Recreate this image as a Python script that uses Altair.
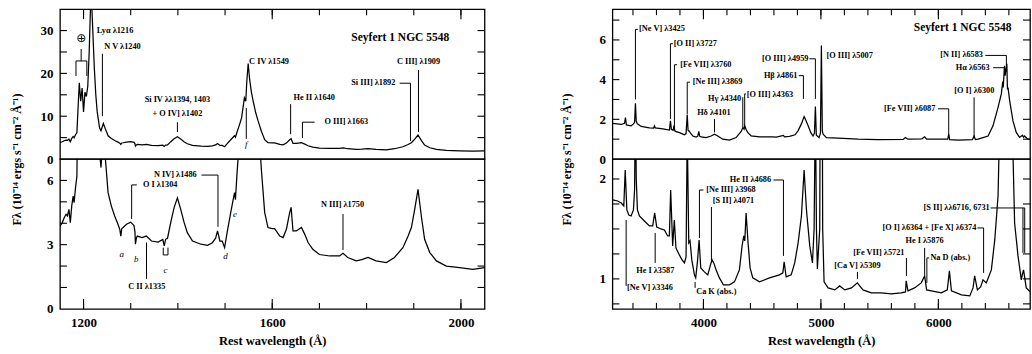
import altair as alt
import pandas as pd

SERIF = "Liberation Serif"
YTITLE = "F\u03bb (10\u207b\u00b9\u2074 ergs s\u207b\u00b9 cm\u207b\u00b2 \u00c5\u207b\u00b9)"

# ---------------- UV spectrum (rest wavelength, flux) ----------------
uv_points = [
    (1150, 3.87), (1155, 4.03), (1159, 4.26), (1163, 4.42), (1166, 4.34), (1169, 4.65),
    (1172, 4.03), (1175, 4.81), (1178, 5.27), (1180, 4.96), (1183, 5.66), (1186, 6.2),
    (1188, 11.0), (1191, 17.8), (1194, 13.5), (1197, 16.6), (1200, 11.0), (1203, 15.6),
    (1206, 14.6), (1209, 17.0), (1212, 25.0), (1216, 40.0), (1220, 29.0), (1223, 21.0),
    (1226, 15.0), (1229, 11.0), (1234, 7.3), (1237, 6.6), (1242, 8.3), (1246, 7.1),
    (1250, 6.0), (1252, 5.43), (1259, 4.8), (1266, 4.34), (1273, 3.95), (1277, 3.7),
    (1279, 3.4), (1281, 3.75), (1284, 3.8), (1291, 3.95), (1300, 4.05), (1307, 3.89),
    (1309, 3.6), (1310, 3.02), (1312, 3.3), (1314, 3.4), (1324, 3.33), (1333, 3.4),
    (1344, 3.17), (1358, 3.12), (1368, 3.24), (1371, 2.94), (1374, 3.25), (1378, 3.3),
    (1385, 4.05), (1392, 4.73), (1399, 5.19), (1406, 4.65), (1413, 4.05), (1420, 3.56),
    (1431, 3.17), (1449, 3.02), (1463, 2.97), (1473, 3.09), (1480, 3.3), (1484, 3.64),
    (1489, 3.17), (1494, 3.17), (1499, 2.86), (1505, 3.64), (1512, 4.5), (1520, 5.43),
    (1522, 5.1), (1525, 6.2), (1530, 7.8), (1535, 9.6), (1541, 14.3), (1544, 13.5),
    (1546, 18.0), (1549, 22.3), (1552, 18.7), (1556, 15.5), (1560, 13.3), (1565, 10.8),
    (1570, 8.9), (1577, 6.5), (1584, 4.5), (1591, 3.8), (1600, 3.75), (1605, 3.75),
    (1616, 3.4), (1623, 3.33), (1630, 3.72), (1637, 4.5), (1640, 4.74), (1644, 3.64),
    (1651, 3.64), (1662, 3.8), (1669, 3.48), (1676, 3.1), (1686, 2.78), (1700, 2.54),
    (1722, 2.47), (1743, 2.47), (1750, 2.6), (1760, 2.4), (1778, 2.24), (1790, 2.3),
    (1803, 2.4), (1820, 2.24), (1842, 2.16), (1859, 2.4), (1877, 2.86), (1888, 3.4),
    (1895, 3.8), (1902, 4.65), (1909, 5.58), (1916, 4.34), (1923, 3.25), (1934, 2.63),
    (1948, 2.24), (1969, 2.0), (1997, 1.93), (2025, 1.85), (2050, 1.93),
]

# ---------------- Optical spectrum, upper panel ----------------
opt_top_points = [
    (3228, 1.80), (3300, 1.74), (3328, 1.80), (3336, 2.09), (3344, 1.72), (3384, 1.67),
    (3404, 1.77), (3414, 1.85), (3421, 2.81), (3428, 1.9), (3438, 1.77), (3470, 1.64),
    (3540, 1.57), (3576, 1.56), (3583, 1.67), (3590, 1.57), (3654, 1.52), (3711, 1.46),
    (3719, 1.93), (3727, 1.49), (3742, 1.45), (3750, 1.69), (3756, 1.42), (3762, 1.39),
    (3796, 1.33), (3838, 1.22), (3852, 1.28), (3862, 2.24), (3869, 1.45), (3881, 1.39),
    (3890, 1.3), (3909, 1.16), (3938, 1.11), (3952, 1.15), (3960, 1.39), (3968, 1.15),
    (3980, 1.11), (4023, 1.08), (4065, 1.16), (4094, 1.25), (4122, 1.16), (4164, 1.0),
    (4221, 0.95), (4278, 1.08), (4321, 1.39), (4336, 1.59), (4346, 1.5), (4352, 1.67),
    (4362, 1.5), (4377, 1.34), (4406, 1.16), (4477, 1.11), (4590, 1.11), (4620, 1.1),
    (4681, 1.19), (4690, 1.12), (4732, 1.14), (4780, 1.22), (4806, 1.43), (4834, 1.77),
    (4857, 2.14), (4864, 2.05), (4885, 1.77), (4913, 1.34), (4933, 1.16), (4945, 1.3),
    (4953, 2.64), (4961, 1.2), (4970, 1.16), (4984, 1.08), (4996, 1.3), (5004, 5.72),
    (5012, 1.4), (5019, 1.25), (5047, 1.08), (5146, 1.05), (5316, 1.0), (5487, 0.98),
    (5700, 0.99), (5719, 1.08), (5740, 1.0), (5860, 1.02), (5883, 1.12), (5900, 1.0),
    (5997, 1.0), (6080, 1.0), (6088, 1.25), (6096, 0.98), (6168, 0.95), (6290, 0.98),
    (6304, 1.15), (6315, 0.98), (6338, 1.0), (6380, 1.08), (6423, 1.16), (6465, 1.67),
    (6508, 2.6), (6536, 3.28), (6548, 3.9), (6552, 3.6), (6563, 4.7), (6568, 4.2),
    (6575, 4.5), (6583, 4.8), (6588, 3.5), (6593, 3.6), (6607, 2.93), (6635, 1.92),
    (6663, 1.34), (6691, 1.09), (6716, 1.2), (6725, 1.1), (6733, 1.16), (6762, 1.0),
    (6800, 1.0),
]

# ---------------- Optical spectrum, lower (expanded) panel ----------------
opt_bot_points = [
    (3228, 1.79), (3270, 1.78), (3300, 1.76), (3322, 1.73), (3334, 2.09), (3348, 1.69),
    (3365, 1.64), (3384, 1.63), (3404, 1.69), (3414, 1.9), (3421, 2.9), (3428, 2.0),
    (3438, 1.69), (3455, 1.63), (3497, 1.58), (3540, 1.53), (3568, 1.53), (3585, 1.66),
    (3602, 1.52), (3639, 1.50), (3667, 1.49), (3696, 1.43), (3710, 1.43), (3721, 1.89),
    (3738, 1.33), (3752, 1.59), (3766, 1.31), (3795, 1.24), (3818, 1.19), (3838, 1.16),
    (3852, 1.22), (3862, 2.5), (3875, 1.36), (3886, 1.38), (3901, 1.19), (3923, 1.04),
    (3934, 1.01), (3948, 1.16), (3963, 1.39), (3977, 1.11), (4008, 1.07), (4037, 1.04),
    (4060, 1.14), (4074, 1.19), (4088, 1.16), (4108, 1.09), (4136, 1.01), (4170, 0.94),
    (4221, 0.94), (4264, 0.97), (4306, 1.09), (4329, 1.33), (4343, 1.43), (4352, 1.38),
    (4363, 1.66), (4380, 1.36), (4397, 1.11), (4420, 1.01), (4477, 0.97), (4562, 1.01),
    (4647, 1.04), (4676, 1.06), (4687, 1.17), (4704, 1.02), (4747, 1.04), (4777, 1.16),
    (4806, 1.36), (4834, 1.63), (4857, 2.09), (4877, 1.69), (4905, 1.33), (4928, 1.16),
    (4942, 1.5), (4953, 2.8), (4962, 1.5), (4970, 1.1), (4990, 1.5), (5004, 6.0),
    (5015, 1.5), (5027, 0.97), (5061, 0.91), (5118, 0.89), (5160, 0.93), (5203, 0.89),
    (5260, 0.91), (5310, 0.96), (5358, 0.89), (5429, 0.86), (5514, 0.86), (5599, 0.85),
    (5684, 0.86), (5720, 0.87), (5726, 0.98), (5741, 0.88), (5797, 0.91), (5854, 0.96),
    (5883, 1.03), (5900, 0.89), (5940, 0.88), (6025, 0.86), (6076, 0.89), (6094, 1.08),
    (6111, 0.88), (6196, 0.84), (6267, 0.83), (6295, 0.91), (6309, 1.03), (6332, 0.89),
    (6360, 0.92), (6380, 0.99), (6408, 0.96), (6451, 1.09), (6480, 1.39), (6508, 1.83),
    (6530, 3.0), (6563, 4.6), (6583, 4.8), (6620, 3.0), (6649, 1.56), (6678, 1.23),
    (6706, 0.99), (6716, 1.05), (6725, 1.09), (6748, 0.91), (6791, 0.86),
]

# ---------------- axes: labels and tick values ----------------
uv_x_labels = [1200, 1600, 2000]
uv_x_ticks = [1200, 1300, 1400, 1500, 1600, 1700, 1800, 1900, 2000]
uv_top_y_labels = [0, 10, 20, 30]
uv_top_y_ticks = [5, 10, 15, 20, 25, 30]
uv_bot_y_labels = [0, 3, 6]
uv_bot_y_ticks = [1, 2, 3, 4, 5, 6]

opt_x_labels = [4000, 5000, 6000]
opt_x_ticks = [3400, 3600, 3800, 4000, 4200, 4400, 4600, 4800, 5000, 5200, 5400,
               5600, 5800, 6000, 6200, 6400, 6600]
opt_top_y_labels = [0, 2, 4, 6]
opt_top_y_ticks = [1, 2, 3, 4, 5, 6, 7]
opt_bot_y_labels = [1, 2]
opt_bot_y_ticks = [0.75, 1.0, 1.25, 1.5, 1.75, 2.0]

# ---------------- annotations: (text, x, y, anchor) and leader lines ----------------
uv_top_text = [
    ("Ly\u03b1 \u03bb1216", 1228, 29.9, "left"),
    ("N V \u03bb1240", 1244, 26.2, "left"),
    ("Si IV \u03bb\u03bb1394, 1403", 1399, 13.8, "center"),
    ("+ O IV] \u03bb1402", 1399, 10.6, "center"),
    ("C IV \u03bb1549", 1551, 22.6, "left"),
    ("He II \u03bb1640", 1645, 14.2, "left"),
    ("O III] \u03bb1663", 1711, 8.6, "left"),
    ("Si III] \u03bb1892", 1861, 17.7, "right"),
    ("C III] \u03bb1909", 1910, 22.6, "center"),
]
uv_top_italic = [("f", 1545, 3.6)]
uv_top_symbol = [("\u2295", 1195, 28.3)]
uv_top_lines = [
    (1240, 24.6, 1240, 10.0),
    (1184, 19.4, 1184, 22.9), (1184, 22.9, 1207, 22.9), (1207, 22.9, 1207, 19.4),
    (1195, 22.9, 1195, 25.7),
    (1399, 8.6, 1399, 6.3),
    (1545, 11.9, 1545, 4.7),
    (1639, 12.8, 1639, 5.8),
    (1664, 8.6, 1664, 4.9), (1664, 8.6, 1690, 8.6),
    (1870, 17.7, 1893, 17.7), (1893, 17.7, 1893, 4.2),
    (1910, 20.8, 1910, 6.3),
]
uv_bot_text = [
    ("N IV] \u03bb1486", 1440, 6.25, "right"),
    ("O I \u03bb1304", 1326, 5.79, "left"),
    ("C II \u03bb1335", 1334, 1.0, "center"),
    ("N III] \u03bb1750", 1749, 4.85, "center"),
]
uv_bot_italic = [("a", 1281, 2.57), ("b", 1312, 2.35), ("c", 1374, 1.82),
                 ("d", 1501, 2.47), ("e", 1521, 4.45)]
uv_bot_lines = [
    (1450, 6.25, 1485, 6.25), (1485, 6.25, 1485, 3.83),
    (1302, 5.79, 1313, 5.79), (1302, 5.79, 1302, 4.2),
    (1333.5, 3.1, 1333.5, 1.4),
    (1369, 2.86, 1369, 2.52), (1369, 2.52, 1379, 2.52), (1379, 2.52, 1379, 2.86),
    (1750, 4.43, 1750, 2.75),
]

opt_top_text = [
    ("[Ne V] \u03bb3425", 3452, 6.53, "left"),
    ("[O II] \u03bb3727", 3747, 5.81, "left"),
    ("[Fe VII] \u03bb3760", 3802, 4.75, "left"),
    ("[Ne III] \u03bb3869", 3909, 3.87, "left"),
    ("H\u03b4 \u03bb4101", 4089, 2.3, "center"),
    ("H\u03b3 \u03bb4340", 4321, 3.03, "right"),
    ("[O III] \u03bb4363", 4369, 3.23, "left"),
    ("H\u03b2 \u03bb4861", 4800, 4.2, "right"),
    ("[O III] \u03bb4959", 4894, 5.05, "right"),
    ("[O III] \u03bb5007", 5047, 5.17, "left"),
    ("[Fe VII] \u03bb6087", 5974, 2.53, "right"),
    ("[O I] \u03bb6300", 6306, 3.41, "center"),
    ("[N II] \u03bb6583", 6380, 5.22, "right"),
    ("H\u03b1 \u03bb6563", 6436, 4.6, "right"),
]
opt_top_lines = [
    (3421, 6.53, 3421, 3.0), (3421, 6.53, 3442, 6.53),
    (3719, 5.81, 3719, 2.02), (3719, 5.81, 3740, 5.81),
    (3753, 4.75, 3753, 1.6), (3753, 4.75, 3775, 4.75),
    (3862, 3.87, 3862, 2.27), (3862, 3.87, 3885, 3.87),
    (4094, 2.02, 4094, 1.34),
    (4335, 3.11, 4335, 1.6),
    (4351, 3.28, 4351, 1.68), (4351, 3.28, 4362, 3.28),
    (4811, 4.2, 4851, 4.2), (4851, 4.2, 4851, 3.03),
    (4902, 5.05, 4953, 5.05), (4953, 5.05, 4953, 3.03),
    (5997, 2.53, 6088, 2.53), (6088, 2.53, 6088, 1.13),
    (6304, 3.11, 6304, 1.13),
    (6400, 5.22, 6579, 5.22), (6579, 5.22, 6579, 4.71),
    (6466, 4.6, 6565, 4.6), (6565, 4.6, 6565, 4.3),
]
opt_bot_text = [
    ("[Ne V] \u03bb3346", 3350, 0.91, "left"),
    ("He I \u03bb3587", 3590, 1.08, "center"),
    ("Ca K (abs.)", 3938, 0.87, "left"),
    ("[Ne III] \u03bb3968", 4023, 1.89, "left"),
    ("[S II] \u03bb4071", 4080, 1.78, "left"),
    ("He II \u03bb4686", 4576, 1.99, "right"),
    ("[Ca V] \u03bb5309", 5311, 1.13, "center"),
    ("[Fe VII] \u03bb5721", 5493, 1.26, "center"),
    ("He I \u03bb5876", 5883, 1.38, "center"),
    ("Na D (abs.)", 5932, 1.21, "left"),
    ("[O I] \u03bb6364 + [Fe X] \u03bb6374", 6323, 1.51, "right"),
    ("[S II] \u03bb\u03bb6716, 6731", 6437, 1.71, "right"),
]
opt_bot_lines = [
    (3342, 1.59, 3342, 0.93),
    (3589, 1.46, 3589, 1.16),
    (3929, 0.97, 3929, 0.91),
    (3966, 1.89, 3966, 1.41), (3966, 1.89, 4000, 1.89),
    (4068, 1.72, 4068, 1.16),
    (4596, 1.99, 4681, 1.99), (4681, 1.99, 4681, 1.23),
    (5311, 1.07, 5311, 1.0),
    (5728, 1.21, 5728, 1.03),
    (5883, 1.31, 5883, 1.04),
    (5902, 1.21, 5922, 1.21), (5902, 1.21, 5902, 0.96),
    (6332, 1.51, 6385, 1.51), (6385, 1.51, 6385, 1.06),
    (6445, 1.71, 6735, 1.71), (6720, 1.71, 6720, 1.26), (6735, 1.71, 6735, 1.26),
]

uv_heading = [("Seyfert 1 NGC 5548", 1975, 28.2)]
opt_heading = [("Seyfert 1 NGC 5548", 6623, 6.6)]


def make_panel(points, xdom, ydom, W, H, lines, texts, italics, symbols, heads,
               x_labels, x_ticks, y_labels, y_ticks, lower, ytitle_x):
    xs = alt.Scale(domain=xdom, nice=False, zero=False)
    ys = alt.Scale(domain=ydom, nice=False, zero=False)

    ycommon = dict(values=y_labels, ticks=False, domain=False, grid=False, format="d",
                   labelFont=SERIF, labelFontSize=13, labelFontWeight="bold",
                   labelColor="black", labelPadding=7, labelOverlap=False)
    if lower:
        yaxis = alt.Axis(title=YTITLE, titleX=ytitle_x, titleY=0, titleAngle=270,
                         titleAlign="center", titleBaseline="middle", titleFont=SERIF,
                         titleFontSize=12, titleFontWeight="bold", titleColor="black",
                         **ycommon)
        xaxis = alt.Axis(values=x_labels, ticks=False, domain=False, grid=False, format="d",
                         labelFont=SERIF, labelFontSize=13, labelFontWeight="bold",
                         labelColor="black", labelPadding=8, labelFlush=False,
                         labelOverlap=False, title="Rest wavelength (\u00c5)",
                         titleFont=SERIF, titleFontSize=12.5, titleFontWeight="bold",
                         titleColor="black", titlePadding=5)
    else:
        yaxis = alt.Axis(title=None, **ycommon)
        xaxis = None

    def xn(f):
        return alt.X(f, type="quantitative", scale=xs, axis=xaxis)

    def yn(f):
        return alt.Y(f, type="quantitative", scale=ys, axis=yaxis)

    df = pd.DataFrame(points, columns=["w", "f"])
    layers = [alt.Chart(df).mark_line(color="black", strokeWidth=1.25, clip=True).encode(
        x=xn("w"), y=yn("f"))]

    ldf = pd.DataFrame(lines, columns=["x1", "y1", "x2", "y2"])
    layers.append(alt.Chart(ldf).mark_rule(color="black", strokeWidth=1.0, clip=True).encode(
        x=xn("x1"), y=yn("y1"), x2="x2:Q", y2="y2:Q"))

    tdf = pd.DataFrame(texts, columns=["t", "x", "y", "anchor"])
    for anchor in ["left", "center", "right"]:
        sub = tdf[tdf["anchor"] == anchor]
        if len(sub):
            layers.append(alt.Chart(sub).mark_text(
                align=anchor, baseline="middle", font=SERIF, fontSize=8.3,
                fontWeight="bold", color="black").encode(x=xn("x"), y=yn("y"), text="t:N"))
    if italics:
        idf = pd.DataFrame(italics, columns=["t", "x", "y"])
        layers.append(alt.Chart(idf).mark_text(
            align="center", baseline="middle", font=SERIF, fontSize=9,
            fontStyle="italic", color="black").encode(x=xn("x"), y=yn("y"), text="t:N"))
    if symbols:
        sdf = pd.DataFrame(symbols, columns=["t", "x", "y"])
        layers.append(alt.Chart(sdf).mark_text(
            align="center", baseline="middle", font="DejaVu Sans", fontSize=12,
            color="black").encode(x=xn("x"), y=yn("y"), text="t:N"))
    if heads:
        hdf = pd.DataFrame(heads, columns=["t", "x", "y"])
        layers.append(alt.Chart(hdf).mark_text(
            align="right", baseline="middle", font=SERIF, fontSize=11.5,
            fontWeight="bold", color="black").encode(x=xn("x"), y=yn("y"), text="t:N"))

    # inward tick marks
    xt = pd.DataFrame({"v": x_ticks})
    xmaj = pd.DataFrame({"v": x_labels})
    yt = pd.DataFrame({"v": y_ticks})
    tick = dict(color="black", strokeWidth=1.1)
    if lower:
        layers.append(alt.Chart(xt).mark_rule(**tick).encode(
            x=xn("v"), y=alt.value(H), y2=alt.value(H - 6)))
        layers.append(alt.Chart(xmaj).mark_rule(**tick).encode(
            x=xn("v"), y=alt.value(H), y2=alt.value(H - 10)))
    else:
        layers.append(alt.Chart(xt).mark_rule(**tick).encode(
            x=xn("v"), y=alt.value(0), y2=alt.value(6)))
        layers.append(alt.Chart(xmaj).mark_rule(**tick).encode(
            x=xn("v"), y=alt.value(0), y2=alt.value(10)))
    layers.append(alt.Chart(yt).mark_rule(**tick).encode(
        y=yn("v"), x=alt.value(0), x2=alt.value(7)))
    layers.append(alt.Chart(yt).mark_rule(**tick).encode(
        y=yn("v"), x=alt.value(W), x2=alt.value(W - 7)))

    return alt.layer(*layers).properties(width=W, height=H)


UV_W, OPT_W, PH = 425, 418, 150

uv_top = make_panel(uv_points, [1150, 2050], [0, 35], UV_W, PH, uv_top_lines, uv_top_text,
                    uv_top_italic, uv_top_symbol, uv_heading,
                    uv_x_labels, uv_x_ticks, uv_top_y_labels, uv_top_y_ticks, False, -43)
uv_bot = make_panel(uv_points, [1150, 2050], [0, 7], UV_W, PH, uv_bot_lines, uv_bot_text,
                    uv_bot_italic, None, None,
                    uv_x_labels, uv_x_ticks, uv_bot_y_labels, uv_bot_y_ticks, True, -43)
opt_top = make_panel(opt_top_points, [3225, 6780], [0, 7.55], OPT_W, PH, opt_top_lines,
                     opt_top_text, None, None, opt_heading,
                     opt_x_labels, opt_x_ticks, opt_top_y_labels, opt_top_y_ticks, False, -46)
opt_bot = make_panel(opt_bot_points, [3225, 6780], [0.7, 2.2], OPT_W, PH, opt_bot_lines,
                     opt_bot_text, None, None, None,
                     opt_x_labels, opt_x_ticks, opt_bot_y_labels, opt_bot_y_ticks, True, -46)

uv = alt.vconcat(uv_top, uv_bot, spacing=0, bounds="flush")
opt = alt.vconcat(opt_top, opt_bot, spacing=0, bounds="flush")

# nested concat groups count as zero width under flush bounds, so the spacing
# spans the first column's width plus the gap between the two frames
chart = alt.hconcat(uv, opt, spacing=UV_W + 128, bounds="flush").properties(
    padding={"left": 10, "top": 7, "right": 0, "bottom": 2},
    background="white",
).configure_view(stroke="black", strokeWidth=1.3)

chart.save("out.html", embed_options={"renderer": "svg", "actions": False})
